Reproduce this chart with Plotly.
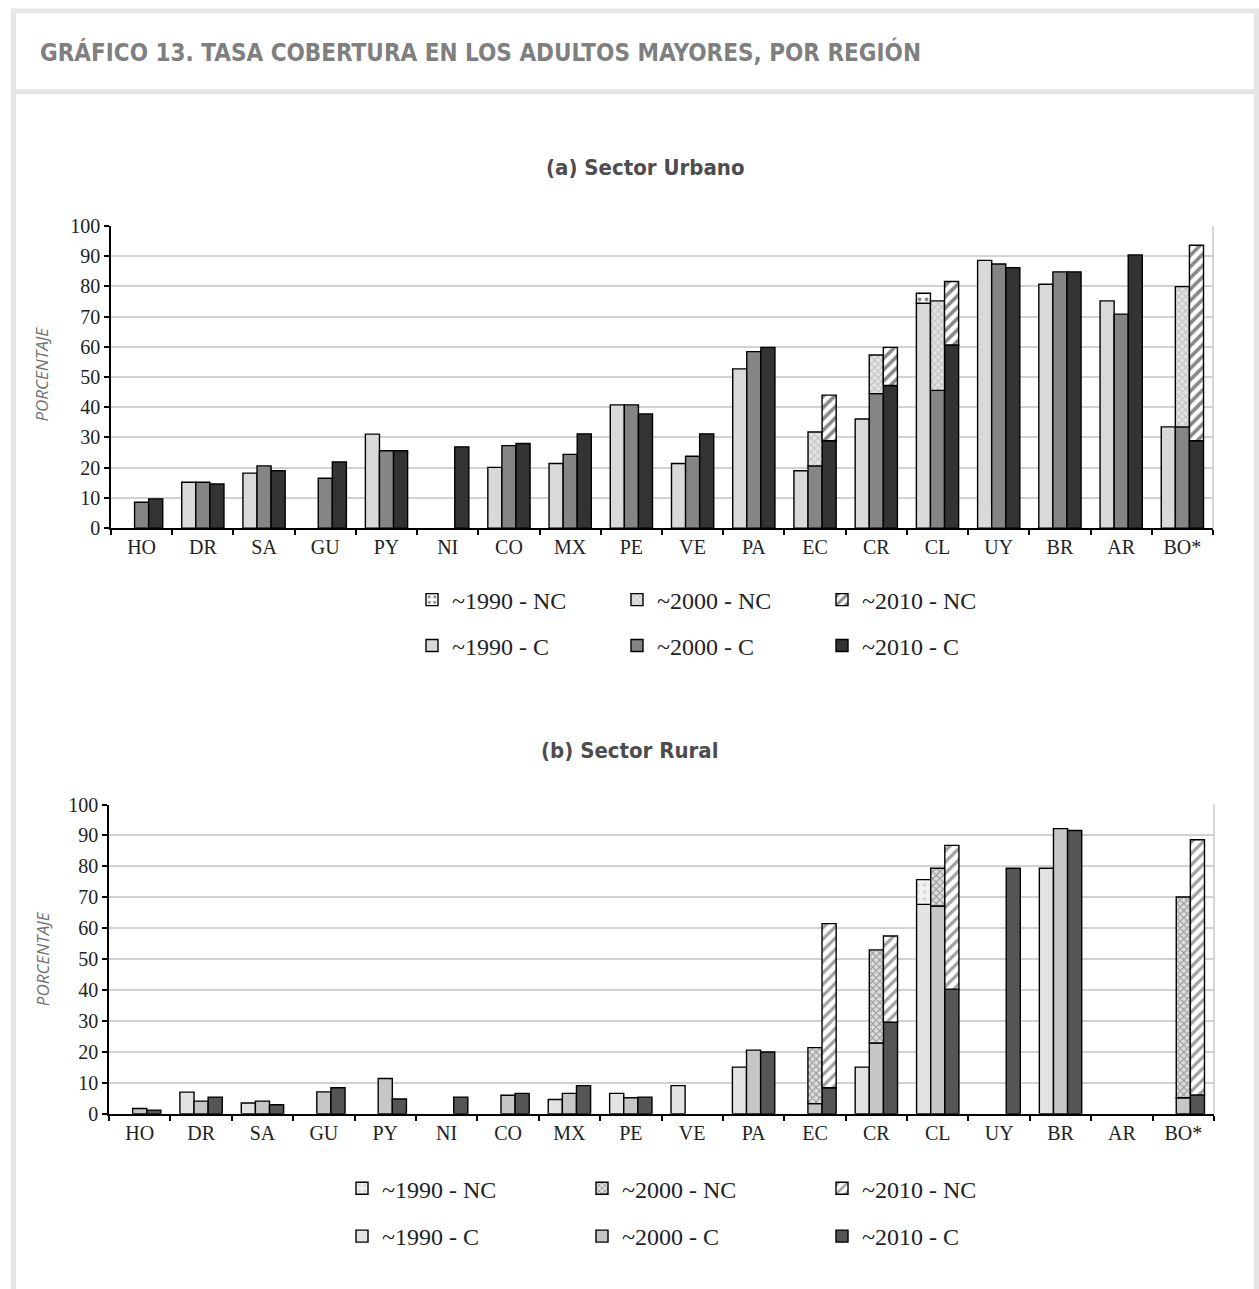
import plotly.graph_objects as go

categories = ["HO", "DR", "SA", "GU", "PY", "NI", "CO", "MX", "PE", "VE",
              "PA", "EC", "CR", "CL", "UY", "BR", "AR", "BO*"]

# Sector urbano - cotizantes (C) y no contributivo (NC, apilado encima)
u1990_c = [None, 15.2, 18.2, None, 31.1, None, 20.1, 21.4, 40.8, 21.4, 52.7, 19.0, 36.1, 74.4, 88.6, 80.7, 75.2, 33.5]
u2000_c = [8.6, 15.2, 20.6, 16.5, 25.6, None, 27.3, 24.4, 40.8, 23.8, 58.4, 20.6, 44.5, 45.6, 87.4, 84.8, 70.8, 33.5]
u2010_c = [9.7, 14.6, 19.0, 21.9, 25.6, 26.9, 28.0, 31.2, 37.8, 31.2, 59.8, 28.9, 47.2, 60.6, 86.2, 84.8, 90.4, 28.9]
u1990_nc = [None, None, None, None, None, None, None, None, None, None, None, None, None, 3.3, None, None, None, None]
u2000_nc = [None, None, None, None, None, None, None, None, None, None, None, 11.2, 12.8, 29.6, None, None, None, 46.4]
u2010_nc = [None, None, None, None, None, None, None, None, None, None, None, 15.1, 12.6, 21.0, None, None, None, 64.7]

# Sector rural
r1990_c = [None, 7.0, 3.5, None, None, None, None, 4.6, 6.6, 9.1, 15.1, None, 15.1, 67.7, None, 79.4, None, None]
r2000_c = [1.7, 4.1, 4.1, 7.1, 11.4, None, 6.0, 6.6, 5.2, None, 20.6, 3.3, 22.9, 67.2, None, 92.2, None, 5.2]
r2010_c = [1.2, 5.4, 2.9, 8.4, 4.8, 5.4, 6.6, 9.1, 5.4, None, 20.0, 8.4, 29.6, 40.3, 79.4, 91.6, None, 6.1]
r1990_nc = [None, None, None, None, None, None, None, None, None, None, None, None, None, 8.0, None, None, None, None]
r2000_nc = [None, None, None, None, None, None, None, None, None, None, None, 18.1, 30.1, 12.2, None, None, None, 64.9]
r2010_nc = [None, None, None, None, None, None, None, None, None, None, None, 53.1, 27.9, 46.5, None, None, None, 82.5]

W, H = 1259, 1289
SERIF = "Liberation Serif, Times New Roman, serif"
NARROW = "Liberation Sans Narrow, DejaVu Sans Condensed, Arial Narrow, sans-serif"

# observed vertical mapping of the rendered page
Y_OFF, Y_SPAN = 8.6, 1270.0


def px_x(v):
    return v / W


def px_y(v):
    return 1 - (v - Y_OFF) / Y_SPAN


def base_of(c, nc):
    return [ci if (n is not None and ci is not None) else (0 if n is not None else None) for ci, n in zip(c, nc)]


fig = go.Figure()

OUT = dict(color="black", width=1.4)

panels = [
    dict(x="x", y="y", c=[u1990_c, u2000_c, u2010_c], nc=[u1990_nc, u2000_nc, u2010_nc],
         ccol=["#d9d9d9", "#858585", "#333333"],
         pat=[dict(shape=".", fgcolor="#111111", bgcolor="#ffffff", size=7, solidity=0.25),
              dict(shape="x", fgcolor="#9a9a9a", bgcolor="#e2e2e2", size=5, solidity=0.35),
              dict(shape="/", fgcolor="#111111", bgcolor="#ffffff", size=8, solidity=0.45)],
         leg_nc="legend", leg_c="legend2"),
    dict(x="x2", y="y2", c=[r1990_c, r2000_c, r2010_c], nc=[r1990_nc, r2000_nc, r2010_nc],
         ccol=["#e3e3e3", "#c6c6c6", "#555555"],
         pat=[dict(shape=".", fgcolor="#bdbdbd", bgcolor="#f2f2f2", size=7, solidity=0.25),
              dict(shape="x", fgcolor="#555555", bgcolor="#dedede", size=5, solidity=0.4),
              dict(shape="/", fgcolor="#444444", bgcolor="#ffffff", size=8, solidity=0.4)],
         leg_nc="legend3", leg_c="legend4"),
]
years = ["~1990", "~2000", "~2010"]

for p in panels:
    for i, yr in enumerate(years):
        fig.add_trace(go.Bar(
            x=categories, y=p["c"][i], name=f"{yr} - C", xaxis=p["x"], yaxis=p["y"],
            offsetgroup=yr, marker=dict(color=p["ccol"][i], line=OUT),
            legend=p["leg_c"], showlegend=True))
    for i, yr in enumerate(years):
        fig.add_trace(go.Bar(
            x=categories, y=p["nc"][i], base=base_of(p["c"][i], p["nc"][i]),
            name=f"{yr} - NC", xaxis=p["x"], yaxis=p["y"],
            offsetgroup=yr, marker=dict(color=p["pat"][i]["bgcolor"], pattern=p["pat"][i], line=OUT),
            legend=p["leg_nc"], showlegend=True))

xax = dict(type="category", showline=True, linecolor="black", linewidth=1.5,
           ticks="outside", tickson="boundaries", ticklen=5, tickcolor="black", tickwidth=1.5,
           tickfont=dict(family=SERIF, size=20, color="#222222"), showgrid=False, fixedrange=True)
yax = dict(range=[0, 100], dtick=10, showline=True, linecolor="black", linewidth=1.5,
           ticks="outside", ticklen=5, tickcolor="black", tickwidth=1.5,
           showgrid=True, gridcolor="#d2d2d2", gridwidth=1.6, zeroline=False,
           tickfont=dict(family=SERIF, size=20, color="#222222"), fixedrange=True)

legbase = dict(orientation="h", xref="paper", yref="paper", xanchor="left", yanchor="middle",
               font=dict(family=SERIF, size=24, color="#222222"), bgcolor="rgba(0,0,0,0)",
               itemwidth=30, entrywidthmode="pixels", traceorder="normal", itemclick=False,
               itemdoubleclick=False)

fig.update_layout(
    width=W, height=H, margin=dict(l=0, r=0, t=0, b=0),
    paper_bgcolor="white", plot_bgcolor="white",
    barmode="group", bargap=0.31, bargroupgap=0,
    xaxis=dict(xax, domain=[px_x(111), px_x(1213)], anchor="y"),
    yaxis=dict(yax, domain=[px_y(527), px_y(224)], anchor="x"),
    xaxis2=dict(xax, domain=[px_x(109), px_x(1214)], anchor="y2"),
    yaxis2=dict(yax, domain=[px_y(1114), px_y(804)], anchor="x2"),
    legend=dict(legbase, x=px_x(412), y=px_y(599), entrywidth=160),
    legend2=dict(legbase, x=px_x(412), y=px_y(645), entrywidth=160),
    legend3=dict(legbase, x=px_x(342), y=px_y(1189), entrywidth=195),
    legend4=dict(legbase, x=px_x(342), y=px_y(1237), entrywidth=195),
    showlegend=True,
)

# Page frame (light gray bands)
FR = "#e6e6e6"
frame_lines = [
    (13.5, 13.5, 8.5, 1400),
    (1256.5, 1256.5, 8.5, 1400),
    (11, 1259, 8.5, 8.5),
    (11, 1259, 89.5, 89.5),
]
for x0, x1, y0, y1 in frame_lines:
    fig.add_shape(type="line", xref="paper", yref="paper", x0=px_x(x0), x1=px_x(x1),
                  y0=px_y(y0), y1=px_y(y1), line=dict(color=FR, width=5), layer="below")
# right plot borders (light gray)
for xr, yr in [("x domain", "y domain"), ("x2 domain", "y2 domain")]:
    fig.add_shape(type="line", xref=xr, yref=yr, x0=1, x1=1, y0=0, y1=1,
                  line=dict(color="#c8c8c8", width=1.5))

ann = [
    dict(text="<b>GRÁFICO 13. TASA COBERTURA EN LOS ADULTOS MAYORES, POR REGIÓN</b>",
         x=px_x(38), y=px_y(50), xanchor="left", yanchor="middle",
         font=dict(family=NARROW, size=24, color="#7f7f7f")),
    dict(text="<b>(a) Sector Urbano</b>", x=px_x(645), y=px_y(165), xanchor="center", yanchor="middle",
         font=dict(family=NARROW, size=22, color="#4d4d4d")),
    dict(text="<b>(b) Sector Rural</b>", x=px_x(630), y=px_y(750), xanchor="center", yanchor="middle",
         font=dict(family=NARROW, size=22, color="#4d4d4d")),
    dict(text="<i>PORCENTAJE</i>", x=px_x(42), y=px_y(372), xanchor="center", yanchor="middle",
         textangle=-90, font=dict(family="Open Sans, sans-serif", size=17, color="#707070")),
    dict(text="<i>PORCENTAJE</i>", x=px_x(42), y=px_y(958), xanchor="center", yanchor="middle",
         textangle=-90, font=dict(family="Open Sans, sans-serif", size=17, color="#707070")),
]
for a in ann:
    fig.add_annotation(xref="paper", yref="paper", showarrow=False, **a)

fig.write_html("out.html", config={"displayModeBar": False},
               post_script="document.body.style.margin='0';document.body.style.overflow='hidden';")
